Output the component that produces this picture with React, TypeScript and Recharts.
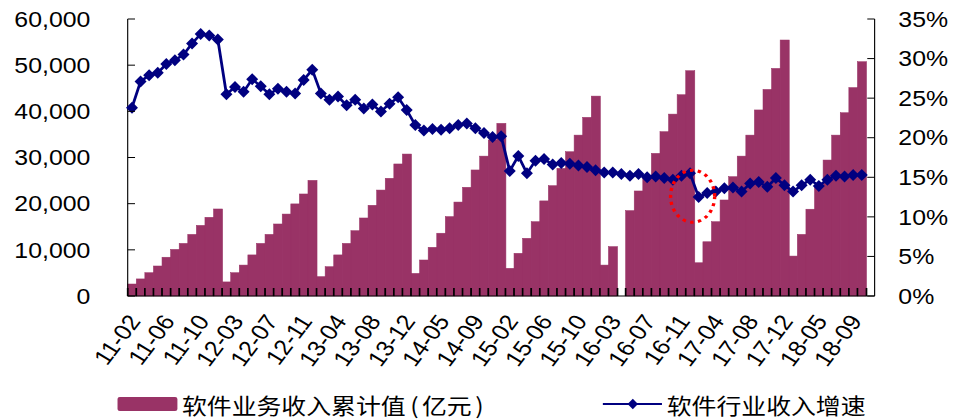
import React from "react";
import { ComposedChart, Bar, Line, XAxis, YAxis, ReferenceDot } from "recharts";

// monthly categories (January is merged into February in the source data)
const months = [
  "11-02", "11-03", "11-04", "11-05", "11-06", "11-07", "11-08", "11-09", "11-10", "11-11", "11-12",
  "12-02", "12-03", "12-04", "12-05", "12-06", "12-07", "12-08", "12-09", "12-10", "12-11", "12-12",
  "13-02", "13-03", "13-04", "13-05", "13-06", "13-07", "13-08", "13-09", "13-10", "13-11", "13-12",
  "14-02", "14-03", "14-04", "14-05", "14-06", "14-07", "14-08", "14-09", "14-10", "14-11", "14-12",
  "15-02", "15-03", "15-04", "15-05", "15-06", "15-07", "15-08", "15-09", "15-10", "15-11", "15-12",
  "16-02", "16-03", "16-04", "16-05", "16-06", "16-07", "16-08", "16-09", "16-10", "16-11", "16-12",
  "17-02", "17-03", "17-04", "17-05", "17-06", "17-07", "17-08", "17-09", "17-10", "17-11", "17-12",
  "18-02", "18-03", "18-04", "18-05", "18-06", "18-07", "18-08", "18-09", "18-10", "18-11",
];

// cumulative software revenue, 亿元
const revenue2011 = [2600, 3700, 5050, 6500, 8400, 10100, 11400, 13350, 15300, 17050, 18850];
const revenue2012 = [3050, 5050, 6700, 8900, 11400, 13350, 15600, 17750, 19950, 22100, 25050];
const revenue2013 = [4200, 6350, 8900, 11400, 14150, 16900, 19650, 22950, 25500, 28600, 30750];
const revenue2014 = [4900, 7800, 10550, 13600, 17200, 20350, 23550, 27300, 30300, 33800, 37400];
const revenue2015 = [6000, 9250, 12500, 16100, 20600, 23900, 27650, 31250, 34850, 38700, 43300];
const revenue2016 = [6700, 10700, null, 18500, 22750, 26000, 30900, 35600, 39400, 43600, 48800];
const revenue2017 = [7200, 11750, 16100, 20800, 25850, 30300, 34850, 40300, 44750, 49300, 55450];
const revenue2018 = [8650, 13350, 18800, 24000, 29450, 34850, 39700, 45150, 50750, null];

// year-on-year growth of industry revenue, %
const growth2011 = [23.8, 27.1, 27.9, 28.2, 29.3, 29.8, 30.5, 31.9, 33.1, 32.9, 32.4];
const growth2012 = [25.5, 26.4, 25.8, 27.4, 26.5, 25.5, 26.2, 25.8, 25.6, 27.3, 28.6];
const growth2013 = [25.6, 24.8, 25.2, 24.1, 24.8, 23.7, 24.2, 23.3, 24.3, 25.1, 23.5];
const growth2014 = [21.6, 20.9, 21.1, 21.0, 21.2, 21.6, 21.8, 21.2, 20.6, 20.1, 20.2];
const growth2015 = [15.8, 17.7, 15.5, 17.1, 17.3, 16.6, 16.8, 16.7, 16.5, 16.3, 15.9];
const growth2016 = [15.6, 15.6, 15.4, 15.2, 15.4, 15.0, 15.1, 14.9, 14.7, 15.2, 15.5];
const growth2017 = [12.5, 13.0, 13.2, 13.6, 13.7, 13.2, 14.2, 14.4, 13.8, 14.9, 14.0];
const growth2018 = [13.2, 14.0, 14.7, 13.9, 14.7, 15.2, 15.1, 15.3, 15.3, null];

const leftTicks = [0, 10000, 20000, 30000, 40000, 50000, 60000];
const rightTicks = [0, 5, 10, 15, 20, 25, 30, 35];

const revenue = [
  ...revenue2011, ...revenue2012, ...revenue2013, ...revenue2014,
  ...revenue2015, ...revenue2016, ...revenue2017, ...revenue2018,
];
const growth = [
  ...growth2011, ...growth2012, ...growth2013, ...growth2014,
  ...growth2015, ...growth2016, ...growth2017, ...growth2018,
];

const data = months.map((month, i) => ({
  month,
  revenue: revenue[i],
  growth: growth[i],
}));

const BAR_COLOR = "#993366";
const LINE_COLOR = "#000080";
const FONT = "'Liberation Sans', Arial, sans-serif";
const CJK_FONT = "'Noto Sans CJK SC', sans-serif";

// the whole chart is drawn narrower and stretched sideways
const STRETCH = 1.13;
const W = 849;
const H = 419;
const LEFT_W = 113;
const RIGHT_W = 75;
const LEFT_GAP = 33;
const RIGHT_GAP = 21;
const CAT_TICK = 8;

function MonthTick(props: any) {
  const { x, y, index, payload } = props;
  if (index % 4 !== 0) return <g />;
  return (
    <text
      transform={`translate(${x + 2},${y + 21}) rotate(-56)`}
      textAnchor="end"
      dy="0.35em"
      fontSize={22}
      fontFamily={FONT}
      fill="#000"
    >
      {payload.value}
    </text>
  );
}

function LeftTick(props: any) {
  const { x, y, payload } = props;
  const axisX = x + LEFT_GAP;
  return (
    <g>
      <line x1={axisX} x2={axisX + 6.5} y1={y} y2={y} stroke="#000" strokeWidth={1} />
      <text x={x} y={y} dy="0.35em" textAnchor="end" fontSize={22} fontFamily={FONT} fill="#000">
        {Number(payload.value).toLocaleString("en-US")}
      </text>
    </g>
  );
}

function RightTick(props: any) {
  const { x, y, payload } = props;
  const axisX = x - RIGHT_GAP;
  return (
    <g>
      <line x1={axisX} x2={axisX - 6.5} y1={y} y2={y} stroke="#000" strokeWidth={1} />
      <text x={x} y={y} dy="0.35em" textAnchor="start" fontSize={22} fontFamily={FONT} fill="#000">
        {payload.value}%
      </text>
    </g>
  );
}

// bar plus the inward category ticks on both of its edges
function renderRevenueBar(props: any) {
  const x = Number(props.x);
  const y = Number(props.y);
  const width = Number(props.width);
  const height = Number(props.height);
  if (!isFinite(x) || !isFinite(height) || height <= 0) return <g key={props.index} />;
  const base = y + height;
  return (
    <g key={props.index}>
      <rect x={x} y={y} width={width} height={height} fill={BAR_COLOR} stroke={BAR_COLOR} strokeWidth={0.5} />
      <path
        d={`M${x},${base} V${base - CAT_TICK} M${x + width},${base} V${base - CAT_TICK}`}
        stroke="#000"
        strokeWidth={1.5}
        fill="none"
      />
    </g>
  );
}

function diamond(props: any) {
  const { cx, cy, index } = props;
  if (cx == null || cy == null) return <g key={index} />;
  return (
    <path
      key={index}
      d={`M${cx},${cy - 6} L${cx + 5.3},${cy} L${cx},${cy + 6} L${cx - 5.3},${cy} Z`}
      fill={LINE_COLOR}
    />
  );
}

// dotted ring around the drop at the turn of 2016/2017
function DottedRing(props: any) {
  const { cx, cy } = props;
  return (
    <ellipse
      cx={cx + 2.3}
      cy={cy}
      rx={19.5}
      ry={26}
      fill="none"
      stroke="#ff0000"
      strokeWidth={3}
      strokeDasharray="3 4"
    />
  );
}

const legendText: React.CSSProperties = {
  position: "absolute",
  top: 389,
  lineHeight: "30px",
  fontSize: 22,
  fontFamily: CJK_FONT,
  color: "#000",
  whiteSpace: "nowrap",
};

export default function App() {
  return (
    <div style={{ position: "absolute", left: 0, top: 0, width: 959, height: H, background: "#fff" }}>
      <div
        style={{
          position: "absolute",
          left: 0,
          top: 0,
          width: W,
          height: H,
          transform: `scaleX(${STRETCH})`,
          transformOrigin: "0 0",
        }}
      >
        <ComposedChart
          width={W}
          height={H}
          data={data}
          margin={{ top: 19, right: 0, bottom: 0, left: 0 }}
          barCategoryGap={0}
          barGap={0}
        >
          <XAxis
            dataKey="month"
            interval={0}
            height={123}
            tickSize={0}
            tickMargin={0}
            tickLine={false}
            axisLine={{ stroke: "#000", strokeWidth: 1 }}
            tick={<MonthTick />}
          />
          <YAxis
            yAxisId="left"
            orientation="left"
            width={LEFT_W}
            domain={[0, 60000]}
            ticks={leftTicks}
            tickSize={0}
            tickMargin={LEFT_GAP}
            tickLine={false}
            axisLine={{ stroke: "#000", strokeWidth: 1 }}
            tick={<LeftTick />}
          />
          <YAxis
            yAxisId="right"
            orientation="right"
            width={RIGHT_W}
            domain={[0, 35]}
            ticks={rightTicks}
            tickSize={0}
            tickMargin={RIGHT_GAP}
            tickLine={false}
            axisLine={{ stroke: "#000", strokeWidth: 1 }}
            tick={<RightTick />}
          />
          <Bar
            yAxisId="left"
            dataKey="revenue"
            fill={BAR_COLOR}
            shape={renderRevenueBar}
            isAnimationActive={false}
          />
          <Line
            yAxisId="right"
            dataKey="growth"
            type="linear"
            stroke={LINE_COLOR}
            strokeWidth={2.5}
            dot={diamond}
            activeDot={false}
            connectNulls
            isAnimationActive={false}
          />
          <ReferenceDot yAxisId="right" x="16-12" y={12.6} r={20} shape={<DottedRing />} />
        </ComposedChart>

        {/* legend */}
        <div
          style={{
            position: "absolute",
            left: 103.5,
            top: 397,
            width: 53,
            height: 14,
            background: BAR_COLOR,
            borderRadius: 2,
          }}
        />
        <div style={{ ...legendText, left: 161 }}>
          软件业务收入累计值<span style={{ padding: "0 3px 0 4px" }}>(</span>亿元
          <span style={{ padding: "0 4px 0 3px" }}>)</span>
        </div>
        <svg style={{ position: "absolute", left: 530, top: 394 }} width={60} height={20}>
          <line x1={3.5} x2={55.8} y1={10} y2={10} stroke={LINE_COLOR} strokeWidth={2} />
          <path d="M30,4.8 L34.6,10 L30,15.2 L25.4,10 Z" fill={LINE_COLOR} />
        </svg>
        <div style={{ ...legendText, left: 590 }}>软件行业收入增速</div>
      </div>
    </div>
  );
}
